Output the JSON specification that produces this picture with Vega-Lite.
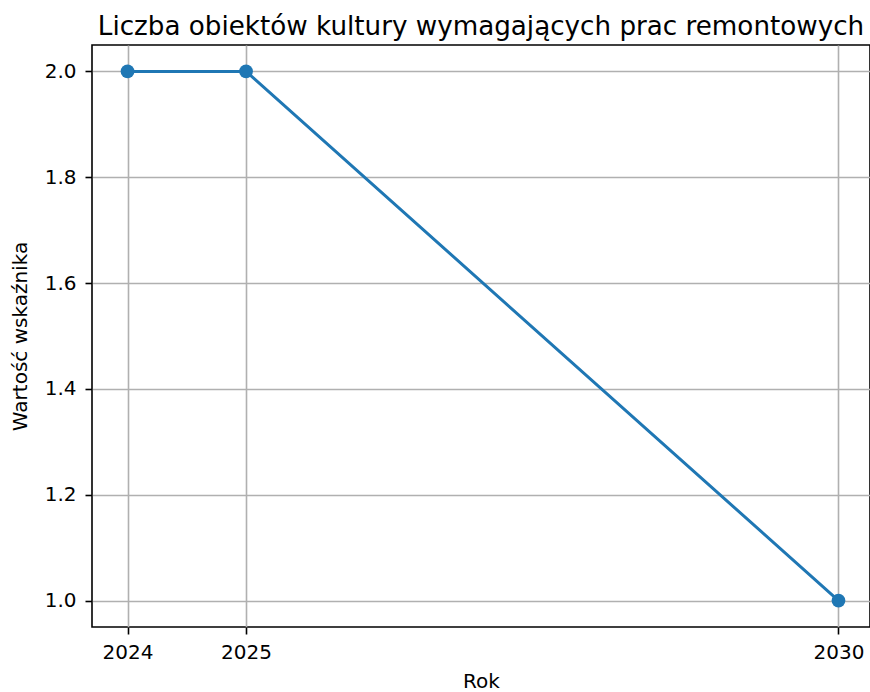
{
  "$schema": "https://vega.github.io/schema/vega-lite/v6.json",
  "autosize": {"type": "none"},
  "padding": {"left": 92, "top": 45, "right": 0, "bottom": 65},
  "width": 778,
  "height": 582,
  "background": "white",
  "config": {
    "font": "DejaVu Sans",
    "view": {"stroke": "black", "strokeWidth": 1.6},
    "axis": {
      "labelFont": "DejaVu Sans",
      "titleFont": "DejaVu Sans",
      "labelFontSize": 20,
      "titleFontSize": 20,
      "titleFontWeight": "normal",
      "labelColor": "black",
      "titleColor": "black",
      "tickColor": "black",
      "tickSize": 7,
      "tickWidth": 1.6,
      "domain": false,
      "gridColor": "#b0b0b0",
      "gridWidth": 1.6,
      "labelPadding": 9
    }
  },
  "title": {
    "text": "Liczba obiektów kultury wymagających prac remontowych",
    "font": "DejaVu Sans",
    "fontSize": 26.2,
    "fontWeight": "normal",
    "color": "black",
    "anchor": "middle",
    "frame": "group",
    "baseline": "alphabetic",
    "offset": 12,
    "dy": 28,
    "dx": 0
  },
  "data": {
    "values": [
      {"Rok": 2024, "value": 2},
      {"Rok": 2025, "value": 2},
      {"Rok": 2030, "value": 1}
    ]
  },
  "encoding": {
    "x": {
      "field": "Rok",
      "type": "quantitative",
      "scale": {"domain": [2023.7, 2030.266], "nice": false, "zero": false},
      "axis": {"values": [2024, 2025, 2030], "format": "d", "title": "Rok", "titlePadding": 9, "labelPadding": 8, "labelFlush": false}
    },
    "y": {
      "field": "value",
      "type": "quantitative",
      "scale": {"domain": [0.95, 2.05], "nice": false, "zero": false},
      "axis": {"values": [1.0, 1.2, 1.4, 1.6, 1.8, 2.0], "format": ".1f", "title": "Wartość wskaźnika", "titlePadding": 14, "labelFlush": false}
    }
  },
  "layer": [
    {"mark": {"type": "line", "color": "#1f77b4", "strokeWidth": 3, "clip": false}},
    {"mark": {"type": "point", "filled": true, "color": "#1f77b4", "opacity": 1, "size": 190, "clip": false}}
  ]
}
